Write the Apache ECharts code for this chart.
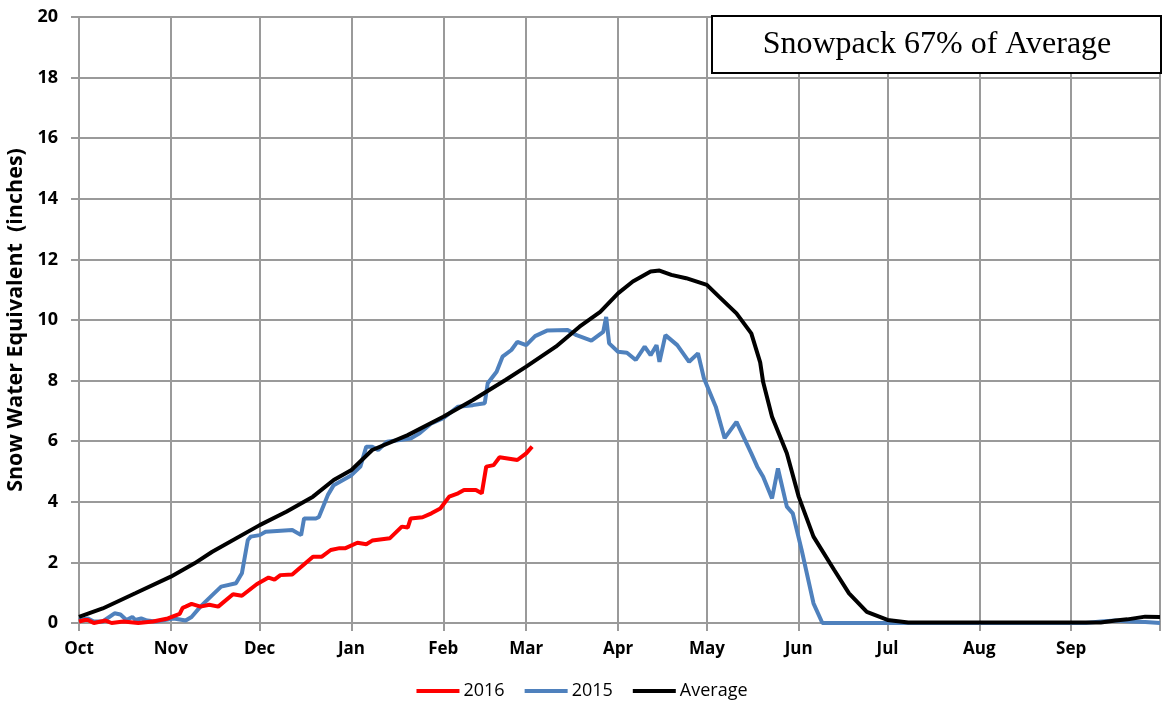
<!DOCTYPE html>
<html>
<head>
<meta charset="utf-8">
<script src="https://cdn.jsdelivr.net/npm/echarts@6/dist/echarts.min.js"></script>
<style>
html,body{margin:0;padding:0;background:#fff;}
#chart{width:1164px;height:709px;}
</style>
</head>
<body>
<div id="chart"></div>
<script>
// Day of water year (0 = Oct 1) at the start of each month, and month labels
var monthStarts = [0, 31, 61, 92, 123, 151, 182, 212, 243, 273, 304, 335, 365];
var monthLabels = ['Oct', 'Nov', 'Dec', 'Jan', 'Feb', 'Mar', 'Apr', 'May', 'Jun', 'Jul', 'Aug', 'Sep'];
var yTicks = [0, 2, 4, 6, 8, 10, 12, 14, 16, 18, 20];

var days2016 = [0, 2, 3, 5, 9, 11, 15, 20, 25, 30, 34, 35, 36, 38, 41, 44, 47, 52, 55, 60, 64, 66, 68, 72, 79, 82, 85, 88, 90, 94, 97, 99, 105, 109, 111, 112, 116, 119, 122, 125, 128, 130, 134, 136, 137.5, 140, 142, 148, 151, 153];
var vals2016 = [0.05, 0.1, 0.1, 0, 0.08, 0, 0.05, 0, 0.05, 0.15, 0.3, 0.5, 0.54, 0.63, 0.54, 0.6, 0.54, 0.95, 0.9, 1.28, 1.5, 1.43, 1.58, 1.6, 2.19, 2.19, 2.41, 2.47, 2.47, 2.65, 2.6, 2.72, 2.8, 3.18, 3.15, 3.45, 3.49, 3.62, 3.78, 4.17, 4.28, 4.39, 4.39, 4.28, 5.16, 5.21, 5.47, 5.38, 5.6, 5.82];

// 2015
var days2015 = [0, 3, 5, 8, 12, 14, 16, 18, 19, 21, 23, 26, 29, 32, 36, 38, 41, 45, 48, 53, 55, 57, 58, 61, 63, 72, 75, 76, 80, 81, 84, 86, 92, 95, 97, 99, 101, 104, 112, 115, 119, 123, 128, 133, 137, 138, 141, 143, 146, 148, 151, 154, 158, 165, 168, 173, 177, 178, 179, 182, 185, 188, 191, 193, 195, 196, 198, 202, 206, 209, 211, 215, 218, 222, 227, 229, 231, 234, 236, 239, 241, 244, 248, 251, 340, 345, 350, 355, 360, 365];
var vals2015 = [0.1, 0.15, 0.05, 0.05, 0.32, 0.28, 0.1, 0.2, 0.1, 0.15, 0.08, 0.05, 0.1, 0.15, 0.08, 0.2, 0.54, 0.92, 1.2, 1.31, 1.64, 2.74, 2.85, 2.9, 3.01, 3.07, 2.9, 3.45, 3.45, 3.5, 4.22, 4.55, 4.88, 5.16, 5.82, 5.82, 5.71, 5.98, 6.09, 6.26, 6.59, 6.76, 7.14, 7.19, 7.25, 7.91, 8.29, 8.79, 9.01, 9.28, 9.17, 9.47, 9.65, 9.67, 9.5, 9.32, 9.61, 10.1, 9.23, 8.95, 8.92, 8.68, 9.12, 8.84, 9.17, 8.62, 9.5, 9.17, 8.62, 8.9, 8.08, 7.14, 6.1, 6.64, 5.6, 5.16, 4.83, 4.11, 5.1, 3.84, 3.62, 2.41, 0.65, 0, 0, 0.05, 0.08, 0.05, 0.03, 0];

// Average
var daysAvg = [0, 8, 19, 31, 39, 45, 61, 70, 79, 86, 92, 99, 111, 123, 133, 144, 151, 161, 169, 176, 182, 187, 193, 196, 200, 205, 212, 216, 222, 227, 230, 231, 234, 239, 243, 248, 255, 260, 266, 273, 280, 345, 350, 354, 360, 365];
var valsAvg = [0.2, 0.48, 0.98, 1.53, 1.97, 2.35, 3.23, 3.67, 4.17, 4.72, 5.05, 5.71, 6.2, 6.81, 7.36, 8.02, 8.46, 9.12, 9.78, 10.27, 10.88, 11.27, 11.6, 11.63, 11.49, 11.38, 11.16, 10.78, 10.22, 9.56, 8.6, 7.95, 6.81, 5.6, 4.17, 2.85, 1.75, 0.98, 0.37, 0.1, 0.02, 0.02, 0.08, 0.12, 0.21, 0.2];

function zip(d, v) { return d.map(function (x, i) { return [x, v[i]]; }); }

var chart = echarts.init(document.getElementById('chart'));
var gridColor = '#9a9a9a';
chart.setOption({
  animation: false,
  backgroundColor: '#fff',
  grid: { left: 79, right: 4, top: 17, bottom: 86, containLabel: false, outerBoundsMode: 'none' },
  xAxis: {
    type: 'value', min: 0, max: 365,
    axisLine: { show: true, lineStyle: { color: gridColor, width: 2 } },
    axisTick: { show: true, customValues: monthStarts, length: 8, lineStyle: { color: gridColor, width: 2 } },
    splitLine: { show: true, lineStyle: { color: gridColor, width: 2 } },
    axisLabel: {
      customValues: monthStarts.slice(0, 12),
      formatter: function (v) { var i = monthStarts.indexOf(v); return i >= 0 && i < 12 ? monthLabels[i] : ''; },
      fontFamily: 'Open Sans', fontWeight: 'bold', fontSize: 17, color: '#000', margin: 18
    }
  },
  yAxis: {
    type: 'value', min: 0, max: 20, interval: 2,
    name: 'Snow Water Equivalent  (inches)', nameLocation: 'middle', nameGap: 50,
    nameTextStyle: { fontFamily: 'Open Sans', fontWeight: 'bold', fontSize: 21.5, color: '#000' },
    axisLine: { show: true, lineStyle: { color: gridColor, width: 2 } },
    axisTick: { show: true, length: 8, lineStyle: { color: gridColor, width: 2 } },
    splitLine: { show: true, lineStyle: { color: gridColor, width: 2 } },
    axisLabel: {
      formatter: function (v) { return yTicks.indexOf(v) >= 0 ? String(v) : ''; },
      fontFamily: 'Open Sans', fontWeight: 'bold', fontSize: 18, color: '#000', margin: 21
    }
  },
  legend: {
    bottom: 4, left: 'center', icon: 'rect', itemWidth: 43, itemHeight: 4, itemGap: 20,
    textStyle: { fontFamily: 'Open Sans', fontSize: 18, color: '#000', padding: [0, 0, 0, -1] },
    data: ['2016', '2015', 'Average']
  },
  series: [
    { name: '2016', type: 'line', data: zip(days2016, vals2016), showSymbol: false, symbol: 'none',
      lineStyle: { color: '#ff0000', width: 4 }, itemStyle: { color: '#ff0000' }, z: 3 },
    { name: '2015', type: 'line', data: zip(days2015, vals2015), showSymbol: false, symbol: 'none',
      lineStyle: { color: '#4f81bd', width: 4 }, itemStyle: { color: '#4f81bd' }, z: 2 },
    { name: 'Average', type: 'line', data: zip(daysAvg, valsAvg), showSymbol: false, symbol: 'none',
      lineStyle: { color: '#000000', width: 4 }, itemStyle: { color: '#000000' }, z: 4 }
  ],
  graphic: [
    { type: 'rect', shape: { x: 712, y: 16, width: 449, height: 57 },
      style: { fill: '#fff', stroke: '#000', lineWidth: 2 }, z: 100 },
    { type: 'text', x: 937, y: 45, z: 101,
      style: { text: 'Snowpack 67% of Average', font: '32px "Liberation Serif"', fill: '#000',
        textAlign: 'center', textVerticalAlign: 'middle' } }
  ]
});
</script>
</body>
</html>
